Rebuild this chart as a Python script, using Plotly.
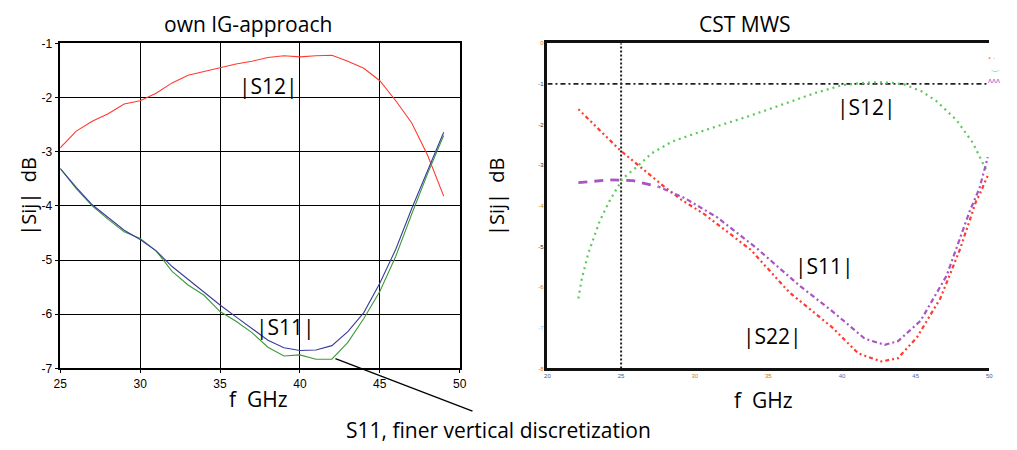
import plotly.graph_objects as go

W, H = 1017, 450

# ---------------- left panel data (own IG-approach) ----------------
f_left = list(range(25, 50))
s12_left = [-2.93, -2.62, -2.44, -2.30, -2.12, -2.06, -1.92, -1.73, -1.59, -1.52,
            -1.44, -1.38, -1.33, -1.26, -1.23, -1.25, -1.23, -1.22, -1.33, -1.46,
            -1.69, -2.06, -2.47, -3.07, -3.82]
s11_left = [-3.31, -3.66, -3.98, -4.22, -4.45, -4.62, -4.83, -5.12, -5.36, -5.59,
            -5.83, -6.05, -6.27, -6.48, -6.62, -6.67, -6.66, -6.58, -6.32, -5.97,
            -5.43, -4.80, -4.05, -3.33, -2.64]
s11_fine_left = [-3.31, -3.68, -4.00, -4.25, -4.48, -4.60, -4.83, -5.21, -5.46, -5.65,
                 -5.95, -6.13, -6.34, -6.61, -6.77, -6.75, -6.83, -6.83, -6.52, -6.08,
                 -5.58, -4.93, -4.15, -3.40, -2.70]
x_ticks_left = [25, 30, 35, 40, 45, 50]
y_ticks_left = [-1, -2, -3, -4, -5, -6, -7]

# ---------------- right panel data (CST MWS) ----------------
f_s12_r = [22.1, 22.33, 22.78, 23.55, 24.2, 25.1, 26.1, 27.1, 28.44, 30.67, 33.78,
           36.0, 38.2, 40.0, 41.5, 42.44, 43.4, 44.2, 45.4, 46.4, 47.8, 48.9, 49.9]
s12_r = [-6.28, -5.80, -5.16, -4.37, -3.89, -3.33, -3.03, -2.70, -2.42, -2.14, -1.78,
         -1.50, -1.22, -1.03, -0.97, -0.96, -0.97, -1.01, -1.18, -1.42, -1.90, -2.46, -3.20]
f_s11_r = [22.1, 24.2, 25.8, 27.55, 29.33, 31.55, 34.2, 37.1, 39.33, 41.55, 42.9,
           43.8, 45.33, 47.1, 48.67, 49.33, 49.9]
s11_r = [-3.43, -3.36, -3.38, -3.53, -3.81, -4.29, -5.04, -5.96, -6.59, -7.27, -7.42,
         -7.33, -6.83, -5.72, -4.13, -3.57, -2.80]
f_s22_r = [22.1, 24.9, 26.2, 27.8, 29.1, 30.67, 33.8, 36.4, 39.33, 41.1, 42.67,
           43.8, 45.1, 46.67, 48.0, 49.1, 49.33, 49.9]
s22_r = [-1.62, -2.62, -3.01, -3.49, -3.85, -4.21, -5.08, -6.12, -6.99, -7.63, -7.83,
         -7.75, -7.23, -6.28, -5.08, -3.89, -3.73, -3.25]
x_ticks_right = [20, 25, 30, 35, 40, 45, 50]
y_ticks_right = [0, -1, -2, -3, -4, -5, -6, -7, -8]
marker_f = 25
ref_db = -1

# ---------------- geometry ----------------
def px(x):
    return x / W

def py(y):
    return 1 - y / H

L_DOM = [px(54), px(459)]
R_DOM = [px(548), px(996)]
Y_DOM = [py(373), py(37.5)]

RED = "#ff3b30"
BLUE = "#3b3b9e"
GREEN = "#3a9a3a"
C_GREEN = "#5cc85c"
C_RED = "#ff3a30"
C_PURPLE = "#a855c4"

FONT = "Open Sans"

fig = go.Figure()

# left traces
fig.add_trace(go.Scatter(x=f_left, y=s12_left, mode="lines", line=dict(color=RED, width=1.1),
                         xaxis="x", yaxis="y", showlegend=False))
fig.add_trace(go.Scatter(x=f_left, y=s11_fine_left, mode="lines", line=dict(color=GREEN, width=1.1),
                         xaxis="x", yaxis="y", showlegend=False))
fig.add_trace(go.Scatter(x=f_left, y=s11_left, mode="lines", line=dict(color=BLUE, width=1.1),
                         xaxis="x", yaxis="y", showlegend=False))

# right reference lines
fig.add_trace(go.Scatter(x=[marker_f, marker_f], y=[y_ticks_right[-1], y_ticks_right[0]], mode="lines",
                         line=dict(color="#222222", width=2, dash="2px,2px"),
                         xaxis="x2", yaxis="y2", showlegend=False))
fig.add_trace(go.Scatter(x=[x_ticks_right[0], x_ticks_right[-1]], y=[ref_db, ref_db], mode="lines",
                         line=dict(color="#222222", width=1.8, dash="5px,3px,2px,3px"),
                         xaxis="x2", yaxis="y2", showlegend=False))

# right traces
fig.add_trace(go.Scatter(x=f_s12_r, y=s12_r, mode="lines", line=dict(color=C_GREEN, width=2.2, dash="2px,4px"),
                         xaxis="x2", yaxis="y2", showlegend=False))
fig.add_trace(go.Scatter(x=f_s22_r, y=s22_r, mode="lines", line=dict(color=C_RED, width=2.2, dash="2px,3px,2px,3px,4px,3px"),
                         xaxis="x2", yaxis="y2", showlegend=False))
fig.add_trace(go.Scatter(x=f_s11_r[:4], y=s11_r[:4], mode="lines", line=dict(color=C_PURPLE, width=2.8, dash="9px,7px"),
                         xaxis="x2", yaxis="y2", showlegend=False))
fig.add_trace(go.Scatter(x=f_s11_r[3:], y=s11_r[3:], mode="lines", line=dict(color=C_PURPLE, width=2.2, dash="2px,3px,5px,3px"),
                         xaxis="x2", yaxis="y2", showlegend=False))

tick_font = dict(family="Liberation Sans", size=12, color="black")

x_cols = ["#3a5a8a", "#3a5a8a", "#d08020", "#d07020", "#3a70c0", "#3a70c0", "#3a5a8a"]
y_cols = ["#e07020", "#303090", "#333333", "#333333", "#c09020", "#333333", "#e07020", "#80c0e0", "#e07020"]

fig.update_layout(
    width=W, height=H, autosize=False,
    margin=dict(l=0, r=0, t=0, b=0),
    paper_bgcolor="white", plot_bgcolor="white",
    xaxis=dict(domain=L_DOM, range=[25, 50], tickvals=x_ticks_left,
               ticktext=[str(v) for v in x_ticks_left],
               showgrid=True, gridcolor="black", gridwidth=1,
               showline=True, linecolor="black", linewidth=1.5, mirror=True,
               ticks="outside", ticklen=3, tickcolor="black",
               tickfont=tick_font, zeroline=False, anchor="y"),
    yaxis=dict(domain=Y_DOM, range=[-7, -1], tickvals=y_ticks_left,
               ticktext=[str(v) for v in y_ticks_left],
               showgrid=True, gridcolor="black", gridwidth=1,
               showline=True, linecolor="black", linewidth=1.5, mirror=True,
               ticks="outside", ticklen=4, tickcolor="black", ticklabelstandoff=0,
               tickfont=tick_font, zeroline=False, anchor="x"),
    xaxis2=dict(domain=R_DOM, range=[20, 50], tickvals=x_ticks_right,
                ticktext=[f'<span style="color:{c}">{v}</span>' for v, c in zip(x_ticks_right, x_cols)],
                showgrid=False, showline=True, linecolor="#111111", linewidth=2.5, mirror=True,
                ticks="", tickfont=dict(family="Liberation Sans", size=6), zeroline=False, anchor="y2"),
    yaxis2=dict(domain=Y_DOM, range=[-8, 0], tickvals=y_ticks_right,
                ticktext=[f'<span style="color:{c}">{v}</span>' for v, c in zip(y_ticks_right, y_cols)],
                showgrid=False, showline=True, linecolor="#111111", linewidth=2.5, mirror=False,
                ticks="", tickfont=dict(family="Liberation Sans", size=6), zeroline=False, anchor="x2"),
)

ann = []
def text(x, y, t, angle=0, size=20):
    ann.append(dict(x=px(x), y=py(y), xref="paper", yref="paper", text=t, showarrow=False,
                    font=dict(family=FONT, size=size, color="black"), textangle=angle,
                    xanchor="center", yanchor="middle"))

text(244, 18, "own IG-approach", size=21)
text(748, 18, "CST MWS", size=21)
text(22, 195, "|Sij|  dB", angle=-90, size=20)
text(497, 196, "|Sij|  dB", angle=-90, size=20)
text(255, 405, "f  GHz", size=21)
text(767, 406, "f  GHz", size=21)
text(265, 82, "|S12|", size=21)
text(282, 330, "|S11|", size=21)
text(872, 103, "|S12|", size=21)
text(829, 267, "|S11|", size=21)
text(776, 340, "|S22|", size=21)
text(498, 437, "S11, finer vertical discretization", size=21)

# tiny legend marks top right
ann.append(dict(x=px(1004), y=py(44), xref="paper", yref="paper", text='<span style="color:#ff8060">• ·</span>',
                showarrow=False, font=dict(size=8)))
ann.append(dict(x=px(1009), y=py(57), xref="paper", yref="paper", text='<span style="color:#60c060">·‒·</span>',
                showarrow=False, font=dict(size=8)))
ann.append(dict(x=px(1009), y=py(67), xref="paper", yref="paper", text='<span style="color:#b060c8">ʌʌʌ</span>',
                showarrow=False, font=dict(size=8)))

fig.update_layout(annotations=ann)

# annotation pointer line
fig.add_shape(type="line", xref="paper", yref="paper", x0=px(333), y0=py(363), x1=px(472), y1=py(417),
              line=dict(color="black", width=1.3))

fig.write_html("out.html")
